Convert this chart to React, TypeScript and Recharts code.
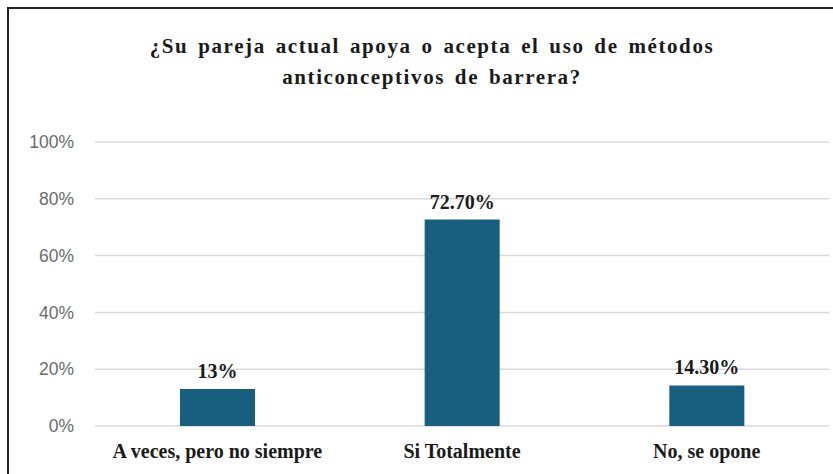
import { BarChart, Bar, XAxis, YAxis, CartesianGrid, LabelList } from 'recharts';

const categories = ['A veces, pero no siempre', 'Si Totalmente', 'No, se opone'];
const values = [13, 72.7, 14.3];
const valueLabels = ['13%', '72.70%', '14.30%'];
const yTicks = [0, 20, 40, 60, 80, 100];
const titleLines = ['¿Su pareja actual apoya o acepta el uso de métodos', 'anticonceptivos de barrera?'];

const data = categories.map((name, i) => ({ name, value: values[i], label: valueLabels[i] }));

const serif = '"Liberation Serif", "Times New Roman", serif';

export default function App() {
  return (
    <div style={{ position: 'absolute', left: 0, top: 0, width: 833, height: 474, overflow: 'hidden', background: '#fff' }}>
      <div
        style={{
          position: 'absolute',
          left: 7,
          top: 7,
          width: 860,
          height: 500,
          border: '2px solid #222',
          boxSizing: 'border-box',
        }}
      />
      <div style={{ position: 'absolute', left: 0, top: 0 }}>
        <BarChart width={833} height={474} data={data} margin={{ top: 142, right: 4, bottom: 0, left: 0 }}>
          <CartesianGrid vertical={false} stroke="#d9d9d9" strokeWidth={1.5} />
          <XAxis
            dataKey="name"
            axisLine={false}
            tickLine={false}
            height={48}
            tickMargin={12}
            tick={{ fontFamily: serif, fontWeight: 'bold', fontSize: 20, fill: '#1a1a1a' }}
          />
          <YAxis
            domain={[0, 100]}
            ticks={yTicks}
            width={95}
            axisLine={false}
            tickLine={false}
            tickMargin={15}
            tickFormatter={(v) => `${v}%`}
            tick={{ fontFamily: '"Liberation Sans", Arial, sans-serif', fontSize: 17.5, fill: '#6b6b6b' }}
          />
          <Bar dataKey="value" fill="#175e7f" barSize={75} isAnimationActive={false}>
            <LabelList
              dataKey="label"
              position="top"
              offset={11}
              style={{ fontFamily: serif, fontWeight: 'bold', fontSize: 20, fill: '#1a1a1a' }}
            />
          </Bar>
        </BarChart>
      </div>
      <svg width={833} height={120} style={{ position: 'absolute', left: 0, top: 0 }}>
        {titleLines.map((line, i) => (
          <text
            key={i}
            x={432}
            y={53 + i * 31}
            textAnchor="middle"
            fontFamily={serif}
            fontWeight="bold"
            fontSize={21}
            letterSpacing={1.6}
            wordSpacing={3}
            fill="#1a1a1a"
          >
            {line}
          </text>
        ))}
      </svg>
    </div>
  );
}
